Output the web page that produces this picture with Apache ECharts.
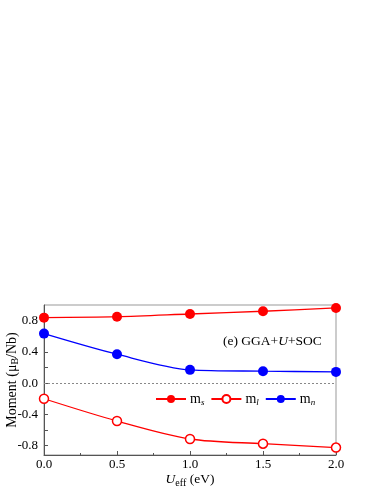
<!DOCTYPE html>
<html><head><meta charset="utf-8">
<script src="https://cdn.jsdelivr.net/npm/echarts@6/dist/echarts.min.js"></script>
<style>html,body{margin:0;padding:0;background:#fff}#c{width:382px;height:494px}</style>
</head><body><div id="c"></div>
<script>
const categories = [0.0, 0.5, 1.0, 1.5, 2.0];
const ms = [0.838, 0.850, 0.885, 0.920, 0.962];
const ml = [-0.20, -0.485, -0.715, -0.775, -0.825];
const mn = [0.634, 0.370, 0.170, 0.153, 0.144];
const yTickLabels = [-0.8, -0.4, 0.0, 0.4, 0.8];
const yMinorTicks = [-0.8, -0.6, -0.4, -0.2, 0.0, 0.2, 0.4, 0.6, 0.8];
const xTickLabels = [0.0, 0.5, 1.0, 1.5, 2.0];

const font = 'Liberation Serif';
const chart = echarts.init(document.getElementById('c'));
const pairs = a => categories.map((x, i) => [x, a[i]]);
const sub = (b, s) => '{b|' + b + '}{s|' + s + '}';
chart.setOption({
  animation: false,
  textStyle: { fontFamily: font },
  grid: { left: 44, right: 46, top: 305, bottom: 39, show: true, borderColor: '#999', borderWidth: 1,
          containLabel: false, outerBoundsMode: 'none' },
  title: {
    text: '(e) GGA+{i|U}+SOC', left: 218, top: 329,
    textStyle: { fontFamily: font, fontSize: 13.5, fontWeight: 'normal', color: '#000',
      rich: { i: { fontFamily: font, fontSize: 13.5, fontStyle: 'italic', color: '#000' } } }
  },
  legend: {
    left: 150, top: 387, itemGap: 6, itemWidth: 30, itemHeight: 10,
    data: ['ms', 'ml', 'mn'],
    formatter: n => ({ ms: sub('m', 's'), ml: sub('m', 'l'), mn: sub('m', 'n') })[n],
    textStyle: { fontFamily: font, color: '#000', padding: [0, 0, 0, -1],
      rich: { b: { fontFamily: font, fontSize: 14, color: '#000' },
              s: { fontFamily: font, fontSize: 9, fontStyle: 'italic', color: '#000', padding: [8, 0, 0, 0] } } }
  },
  xAxis: {
    type: 'value', min: 0, max: 2, interval: 0.5,
    name: '{i|U}{s|eff} (eV)', nameLocation: 'middle', nameGap: 16, nameMoveOverlap: false,
    nameTextStyle: { fontFamily: font, fontSize: 13.5, color: '#000',
      rich: { i: { fontFamily: font, fontSize: 13.5, fontStyle: 'italic', color: '#000' },
              s: { fontFamily: font, fontSize: 10, color: '#000', padding: [7, 0, 0, 0] } } },
    axisLine: { onZero: false, lineStyle: { color: '#555' } },
    axisTick: { inside: true, length: 4, lineStyle: { color: '#555' } },
    minorTick: { show: true, splitNumber: 2, length: 2, lineStyle: { color: '#555' } },
    splitLine: { show: false },
    axisLabel: { fontFamily: font, fontSize: 13, color: '#000', formatter: v => v.toFixed(1), margin: 3 }
  },
  yAxis: {
    type: 'value', min: -0.92, max: 1.0,
    name: 'Moment (μ{s|B}/Nb)', nameLocation: 'middle', nameGap: 24, nameRotate: 90, nameMoveOverlap: false,
    nameTextStyle: { fontFamily: font, fontSize: 14, color: '#000',
      rich: { s: { fontFamily: font, fontSize: 10, color: '#000', padding: [6, 0, 0, 0] } } },
    axisLine: { show: true, onZero: false, lineStyle: { color: '#555' } },
    axisTick: { show: true, inside: true, length: 4, customValues: yMinorTicks, lineStyle: { color: '#555' } },
    splitLine: { show: false },
    axisLabel: { fontFamily: font, fontSize: 13, color: '#000', customValues: yTickLabels,
      formatter: v => v.toFixed(1), margin: 6 }
  },
  series: [
    { name: 'ms', type: 'line', data: pairs(ms), smooth: 0.3, symbol: 'circle', symbolSize: 10,
      lineStyle: { color: '#ff0000', width: 1.3 }, itemStyle: { color: '#ff0000' },
      markLine: { silent: true, symbol: 'none', label: { show: false },
        lineStyle: { color: '#888', type: [2, 2], width: 1 }, data: [{ yAxis: 0 }] } },
    { name: 'ml', type: 'line', data: pairs(ml), smooth: 0.3, symbol: 'circle', symbolSize: 9,
      lineStyle: { color: '#ff0000', width: 1.3 },
      itemStyle: { color: '#ffffff', borderColor: '#ff0000', borderWidth: 1.5 } },
    { name: 'mn', type: 'line', data: pairs(mn), smooth: 0.3, symbol: 'circle', symbolSize: 10,
      lineStyle: { color: '#0000ff', width: 1.3 }, itemStyle: { color: '#0000ff' } }
  ]
});
</script></body></html>
